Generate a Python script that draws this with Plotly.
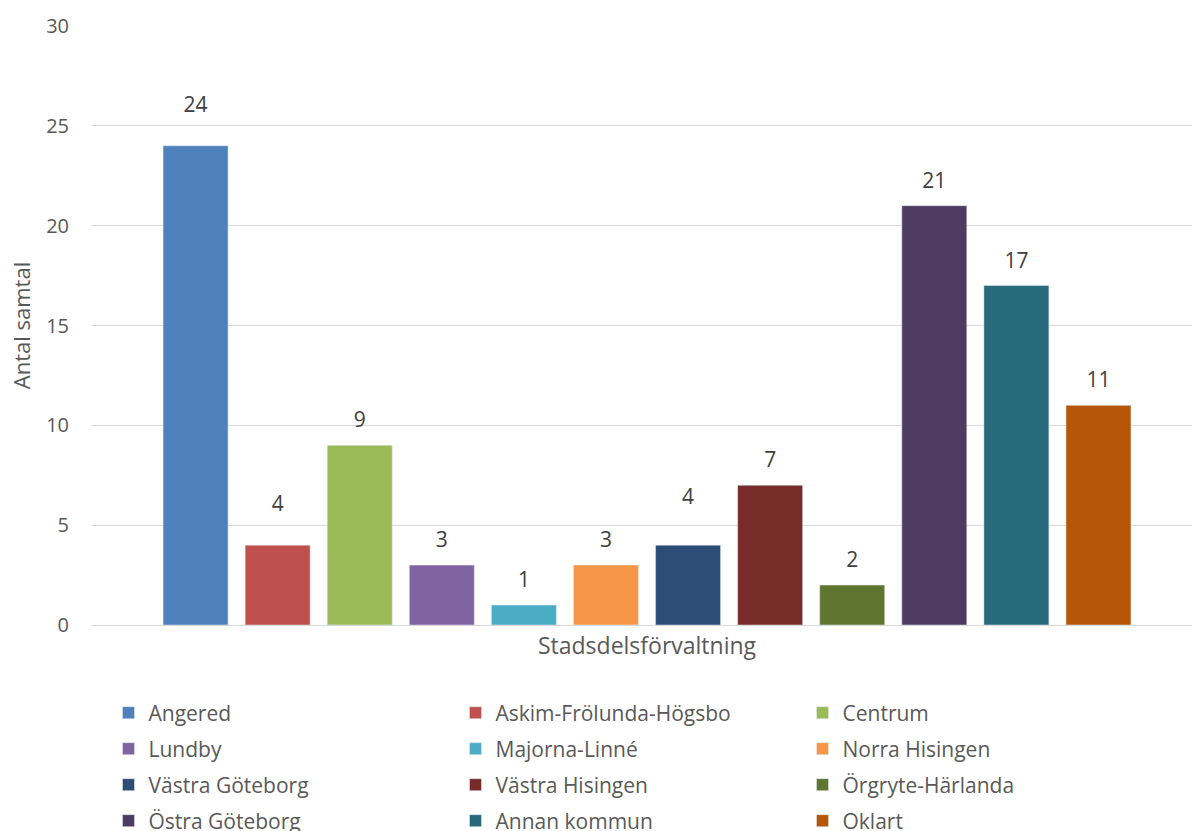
import plotly.graph_objects as go

districts = ["Angered", "Askim-Frölunda-Högsbo", "Centrum", "Lundby", "Majorna-Linné",
             "Norra Hisingen", "Västra Göteborg", "Västra Hisingen", "Örgryte-Härlanda",
             "Östra Göteborg", "Annan kommun", "Oklart"]
counts = [24, 4, 9, 3, 1, 3, 4, 7, 2, 21, 17, 11]
colors = ["#4F81BD", "#C0504D", "#9BBB59", "#8064A2", "#4BACC6", "#F79646",
          "#2C4D75", "#772C2A", "#5F7530", "#4D3B62", "#276A7C", "#B65708"]
category = "Stadsdelsförvaltning"
y_title = "Antal samtal"
y_ticks = [0, 5, 10, 15, 20, 25, 30]

# style: spacer size controlling how far each data label sits above its bar
label_spacer = [19.4, 19.4, 9.2, 9.2, 9.2, 9.2, 24, 9.2, 9.2, 9.2, 9.2, 9.2]

FONT = "Open Sans"
TXT = "#595959"
legend_names = ["legend", "legend2", "legend3", "legend4"]

fig = go.Figure()
for i, (name, val, col) in enumerate(zip(districts, counts, colors)):
    fig.add_trace(go.Bar(
        x=[category], y=[val], name=name, marker_color=col,
        texttemplate="<span style='font-size:21px'>%{y}</span><br> ",
        textposition="outside",
        textfont=dict(size=label_spacer[i], color="#404040", family=FONT),
        cliponaxis=False,
        legend=legend_names[i // 3],
    ))

# plot area: top 26px, bottom 625px
row_centers_px = [713, 749, 785, 821]
plot_top, plot_bottom = 26, 625
legend_cfg = {}
for lname, ypx in zip(legend_names, row_centers_px):
    legend_cfg[lname] = dict(
        orientation="h", x=0.015, xanchor="left",
        y=(plot_bottom - ypx) / (plot_bottom - plot_top), yanchor="middle",
        entrywidth=302, traceorder="normal", bgcolor="rgba(0,0,0,0)",
        font=dict(size=21, color=TXT, family=FONT),
    )

fig.update_layout(
    width=1192, height=831,
    margin=dict(l=92, r=0, t=plot_top, b=831 - plot_bottom, autoexpand=False),
    paper_bgcolor="white", plot_bgcolor="white",
    barmode="group", bargap=0.0963, bargroupgap=0.208,
    font=dict(family=FONT, size=20, color=TXT),
    showlegend=True,
    **legend_cfg,
)
fig.update_yaxes(range=[0, 30], tickvals=y_ticks, showgrid=True, gridcolor="#D9D9D9",
                 gridwidth=1.3, zeroline=False, showline=False, ticks="",
                 ticklabelstandoff=22,
                 tickfont=dict(size=20, color=TXT),
                 title=dict(text=y_title, font=dict(size=22, color=TXT), standoff=9))
fig.update_xaxes(range=[-0.5092, 0.5], showline=True, linecolor="#D9D9D9", linewidth=1.3,
                 ticks="", tickfont=dict(size=23, color=TXT))
fig.write_html("out.html", config={"displayModeBar": False},
               post_script="document.body.style.margin='0';")
